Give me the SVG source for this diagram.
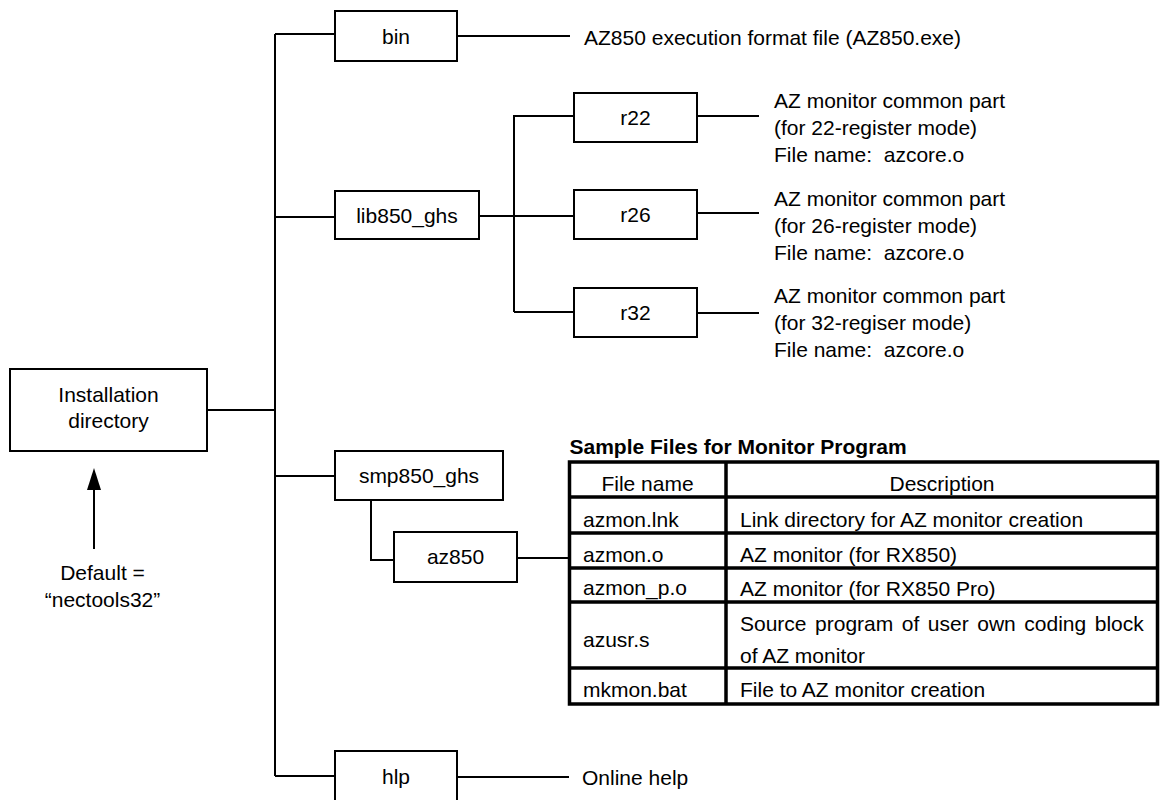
<svg xmlns="http://www.w3.org/2000/svg" width="1163" height="800" viewBox="0 0 1163 800">
<style>
text{font-family:"Liberation Sans",Arial,sans-serif;font-size:21px;fill:#000;white-space:pre}
.c{text-anchor:middle}
.b{font-weight:bold}
.box{fill:#fff;stroke:#000;stroke-width:2}
.ln{fill:none;stroke:#000;stroke-width:2}
.tb{fill:none;stroke:#000;stroke-width:3.5}
</style>
<defs>
<marker id="ah" markerWidth="22" markerHeight="14" refX="9" refY="7" orient="auto" markerUnits="userSpaceOnUse" viewBox="0 0 22 14">
<path d="M0 0 L22 7 L0 14 Z" fill="#000"/>
</marker>
</defs>
<rect width="1163" height="800" fill="#fff"/>
<g id="connectors">
<path class="ln" d="M207 410 H275 M275 34 V776 M275 34 H335 M275 217 H335 M275 476 H335 M275 776 H335"/>
<path class="ln" d="M458 36 H570"/>
<path class="ln" d="M479 216 H574 M514 115 V312 M514 116 H574 M514 312 H574"/>
<path class="ln" d="M697 116 H759 M697 213 H759 M697 313 H759"/>
<path class="ln" d="M371 500 V560 H394"/>
<path class="ln" d="M517 558 H569"/>
<path class="ln" d="M457 777 H569"/>
<line class="ln" x1="94" y1="549" x2="94" y2="481" marker-end="url(#ah)"/>
</g>
<g id="installation">
<rect class="box" x="10" y="369" width="197" height="82"/>
<text class="c" x="108.5" y="402">Installation</text>
<text class="c" x="108.5" y="428">directory</text>
</g>
<g id="default-note">
<text class="c" x="102.5" y="580">Default =</text>
<text class="c" x="102.5" y="607">“nectools32”</text>
</g>
<g id="bin">
<rect class="box" x="335" y="11" width="122" height="50"/>
<text class="c" x="396" y="43.5">bin</text>
</g>
<g id="bin-desc"><text x="584" y="45">AZ850 execution format file (AZ850.exe)</text></g>
<g id="lib850_ghs">
<rect class="box" x="335" y="191" width="144" height="48"/>
<text class="c" x="407" y="222.5">lib850_ghs</text>
</g>
<g id="r22">
<rect class="box" x="574" y="93" width="123" height="49"/>
<text class="c" x="635.5" y="125">r22</text>
</g>
<g id="r22-desc">
<text x="774" y="108">AZ monitor common part</text>
<text x="774" y="135">(for 22-register mode)</text>
<text x="774" y="162">File name:  azcore.o</text>
</g>
<g id="r26">
<rect class="box" x="574" y="190" width="123" height="49"/>
<text class="c" x="635.5" y="222">r26</text>
</g>
<g id="r26-desc">
<text x="774" y="206">AZ monitor common part</text>
<text x="774" y="233">(for 26-register mode)</text>
<text x="774" y="260">File name:  azcore.o</text>
</g>
<g id="r32">
<rect class="box" x="574" y="288" width="123" height="49"/>
<text class="c" x="635.5" y="320">r32</text>
</g>
<g id="r32-desc">
<text x="774" y="303">AZ monitor common part</text>
<text x="774" y="330">(for 32-regiser mode)</text>
<text x="774" y="357">File name:  azcore.o</text>
</g>
<g id="smp850_ghs">
<rect class="box" x="335" y="451" width="168" height="49"/>
<text class="c" x="419" y="483">smp850_ghs</text>
</g>
<g id="az850">
<rect class="box" x="394" y="532" width="123" height="50"/>
<text class="c" x="455.5" y="564">az850</text>
</g>
<g id="sample-table">
<text class="b" x="569.5" y="454">Sample Files for Monitor Program</text>
<rect class="tb" x="569.5" y="462" width="588" height="242"/>
<path class="tb" d="M726 462 V704 M569.5 497 H1157.5 M569.5 533 H1157.5 M569.5 568 H1157.5 M569.5 602 H1157.5 M569.5 668 H1157.5"/>
<text class="c" x="647.5" y="491">File name</text>
<text class="c" x="942" y="491">Description</text>
<text x="583" y="527">azmon.lnk</text>
<text x="740" y="527">Link directory for AZ monitor creation</text>
<text x="583" y="562">azmon.o</text>
<text x="740" y="562">AZ monitor (for RX850)</text>
<text x="583" y="595">azmon_p.o</text>
<text x="740" y="596">AZ monitor (for RX850 Pro)</text>
<text x="583" y="647">azusr.s</text>
<text x="740" y="631" word-spacing="2.7">Source program of user own coding block</text>
<text x="740" y="663">of AZ monitor</text>
<text x="583" y="697">mkmon.bat</text>
<text x="740" y="697">File to AZ monitor creation</text>
</g>
<g id="hlp">
<rect class="box" x="335" y="751" width="122" height="50"/>
<text class="c" x="396" y="783.5">hlp</text>
</g>
<g id="hlp-desc"><text x="582" y="785">Online help</text></g>
</svg>
